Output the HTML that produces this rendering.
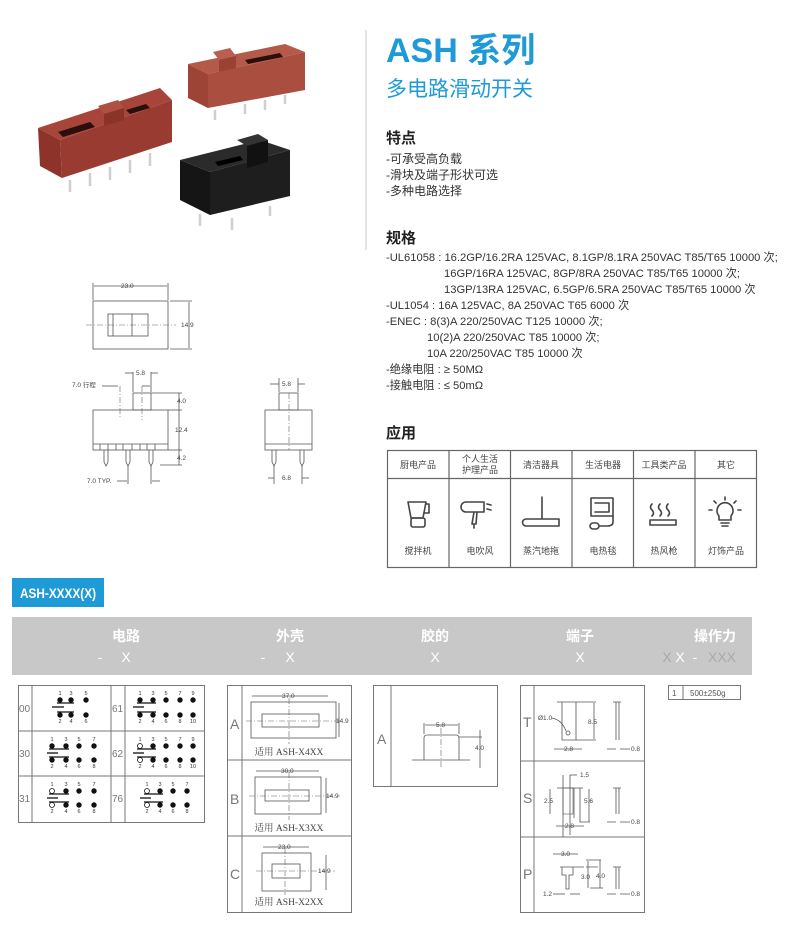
<!DOCTYPE html>
<html><head><meta charset="utf-8"><style>
html,body{margin:0;padding:0;background:#fff;}
svg{display:block;font-family:"Liberation Sans","Noto Sans CJK SC",sans-serif;}
.d{fill:none;stroke:#555;stroke-width:0.8}
.c{fill:none;stroke:#666;stroke-width:0.6;stroke-dasharray:6 2 1 2}
.t{font-size:6.5px;fill:#444}
.g{fill:none;stroke:#777;stroke-width:1}
.ic{fill:none;stroke:#444;stroke-width:1.6;stroke-linecap:round;stroke-linejoin:round}
</style></head><body>
<svg width="790" height="932" viewBox="0 0 790 932" xmlns="http://www.w3.org/2000/svg">
<g>
 <polygon points="38,128 160,88 172,100 60,140" fill="#a8453a"/>
 <polygon points="38,128 60,140 62,178 40,166" fill="#8e3329"/>
 <polygon points="60,140 172,100 172,142 62,178" fill="#9a3b31"/>
 <polygon points="58,132 90,122 95,127 63,137" fill="#2a0f0c"/>
 <polygon points="126,110 146,104 150,108 130,114" fill="#2a0f0c"/>
 <polygon points="98,106 118,100 124,108 104,114" fill="#b04f43"/>
 <polygon points="104,114 124,108 124,120 104,126" fill="#8c3328"/>
 <g stroke="#cfcfcf" stroke-width="2.5"><line x1="70" y1="180" x2="70" y2="192"/><line x1="90" y1="173" x2="90" y2="186"/><line x1="110" y1="167" x2="110" y2="180"/><line x1="130" y1="160" x2="130" y2="173"/><line x1="150" y1="153" x2="150" y2="166"/></g>
 <polygon points="188,64 285,44 305,52 208,74" fill="#b45a49"/>
 <polygon points="188,64 208,74 208,108 188,98" fill="#9e4436"/>
 <polygon points="208,74 305,52 305,90 208,108" fill="#aa4f40"/>
 <polygon points="245,60 280,53 283,57 248,64" fill="#2a0f0c"/>
 <polygon points="213,52 230,48 236,56 219,60" fill="#b86050"/>
 <polygon points="219,60 236,56 236,68 219,72" fill="#9a4234"/>
 <g stroke="#cfcfcf" stroke-width="2.5"><line x1="215" y1="110" x2="215" y2="120"/><line x1="245" y1="104" x2="245" y2="114"/><line x1="265" y1="100" x2="265" y2="110"/><line x1="285" y1="95" x2="285" y2="104"/></g>
 <polygon points="180,160 260,140 290,150 210,172" fill="#2b2b2b"/>
 <polygon points="180,160 210,172 210,215 180,200" fill="#151515"/>
 <polygon points="210,172 290,150 290,196 210,215" fill="#1e1e1e"/>
 <polygon points="237,140 258,134 268,140 247,146" fill="#333"/>
 <polygon points="247,146 268,140 268,162 247,168" fill="#111"/>
 <polygon points="215,162 240,156 243,160 218,166" fill="#000"/>
 <g stroke="#cfcfcf" stroke-width="2.5"><line x1="200" y1="214" x2="200" y2="226"/><line x1="232" y1="218" x2="232" y2="230"/><line x1="270" y1="206" x2="270" y2="216"/></g>
</g>
<line x1="366" y1="30" x2="366" y2="250" stroke="#bbb" stroke-width="0.8"/>
<text x="386" y="62" font-size="34" font-weight="bold" fill="#1e9ad6">ASH 系列</text>
<text x="386" y="96" font-size="21" fill="#1e9ad6">多电路滑动开关</text>
<text x="386" y="143" font-size="15" font-weight="bold" fill="#222">特点</text>
<g font-size="12" fill="#333">
<text x="386" y="163">-可承受高负载</text>
<text x="386" y="179">-滑块及端子形状可选</text>
<text x="386" y="195">-多种电路选择</text>
</g>
<text x="386" y="243" font-size="15" font-weight="bold" fill="#222">规格</text>
<g font-size="11.2" fill="#333">
<text x="386" y="261">-UL61058 : 16.2GP/16.2RA 125VAC, 8.1GP/8.1RA 250VAC T85/T65 10000 次;</text>
<text x="444" y="277">16GP/16RA 125VAC, 8GP/8RA 250VAC T85/T65 10000 次;</text>
<text x="444" y="293">13GP/13RA 125VAC, 6.5GP/6.5RA 250VAC T85/T65 10000 次</text>
<text x="386" y="309">-UL1054 : 16A 125VAC, 8A 250VAC T65 6000 次</text>
<text x="386" y="325">-ENEC : 8(3)A 220/250VAC T125 10000 次;</text>
<text x="427" y="341">10(2)A 220/250VAC T85 10000 次;</text>
<text x="427" y="357">10A 220/250VAC T85 10000 次</text>
<text x="386" y="373">-绝缘电阻 : ≥ 50MΩ</text>
<text x="386" y="389">-接触电阻 : ≤ 50mΩ</text>
</g>
<text x="386" y="438" font-size="15" font-weight="bold" fill="#222">应用</text>
<g stroke="#666" stroke-width="1.2" fill="none">
<rect x="387.5" y="450.5" width="369" height="117"/>
<line x1="387" y1="478.5" x2="757" y2="478.5"/>
<line x1="449" y1="450" x2="449" y2="568"/><line x1="510.5" y1="450" x2="510.5" y2="568"/><line x1="572" y1="450" x2="572" y2="568"/><line x1="633.5" y1="450" x2="633.5" y2="568"/><line x1="695" y1="450" x2="695" y2="568"/>
</g>
<g font-size="9" fill="#444" text-anchor="middle">
<text x="418" y="468">厨电产品</text>
<text x="480" y="462">个人生活</text><text x="480" y="473">护理产品</text>
<text x="541" y="468">清洁器具</text>
<text x="603" y="468">生活电器</text>
<text x="664" y="468">工具类产品</text>
<text x="726" y="468">其它</text>
<text x="418" y="554">搅拌机</text>
<text x="480" y="554">电吹风</text>
<text x="541" y="554">蒸汽地拖</text>
<text x="603" y="554">电热毯</text>
<text x="664" y="554">热风枪</text>
<text x="726" y="554">灯饰产品</text>
</g>
<g class="ic">
<path d="M408,502 h18 l-3,16 h-12 z M426,504 h3 v9 h-4"/><rect x="411" y="518" width="14" height="9" rx="2"/>
<path d="M466,502 h18 v10 h-18 a5,5 0 0 1 0,-10 M474,512 l-2,12 h4 l1,-12 M474,524 v4 M487,504 l4,1 M487,509 l4,1"/>
<path d="M542,497 v22 M526,519 h33 v7 h-33 a3.5,3.5 0 0 1 0,-7"/>
<path d="M591,498 h22 v18 h-22 z M595,503 h14 v9 h-14 M613,516 v6 q0,4 -6,4 h-8"/><rect x="590" y="523" width="9" height="6" rx="3"/>
<path d="M652,504 q-3,3 0,6 q3,3 0,6 M660,504 q-3,3 0,6 q3,3 0,6 M668,504 q-3,3 0,6 q3,3 0,6 M650,520 h26 v5 h-26 z"/>
<path d="M719,520 v-4 a8,8 0 1 1 12,0 v4 z M721,523 h8 M722,526 h6 M725,497 v3 M714,501 l2,2 M736,501 l-2,2 M709,510 h3 M738,510 h3"/>
</g>
<g>
<rect class="d" x="93" y="301" width="75" height="48"/>
<line class="c" x1="86" y1="325" x2="176" y2="325"/>
<rect class="d" x="108" y="314" width="40" height="22"/><line class="d" x1="132" y1="314" x2="132" y2="336"/><line class="d" x1="113" y1="314" x2="113" y2="336"/>
<line class="d" x1="93" y1="283" x2="93" y2="300"/><line class="d" x1="168" y1="283" x2="168" y2="300"/>
<line class="d" x1="94" y1="286" x2="167" y2="286"/><text class="t" x="121" y="288">23.0</text>
<line class="d" x1="170" y1="301" x2="192" y2="301"/><line class="d" x1="170" y1="349" x2="192" y2="349"/>
<line class="d" x1="189" y1="302" x2="189" y2="348"/><text class="t" x="181" y="327">14.9</text>
<rect class="d" x="93" y="410" width="75" height="40"/>
<rect class="d" x="133" y="393" width="18" height="17"/>
<path class="d" d="M93,444 h75 M100,444 v6 M108,444 v6 M116,444 v6 M123,444 v6 M132,444 v6 M140,444 v6 M147,444 v6 M155,444 v6"/>
<g class="d"><path d="M104,450 v12 l2,4 l2,-4 v-12"/><path d="M126,450 v12 l2,4 l2,-4 v-12"/><path d="M149,450 v12 l2,4 l2,-4 v-12"/></g>
<line class="c" x1="120" y1="386" x2="120" y2="418"/><line class="c" x1="142" y1="386" x2="142" y2="420"/>
<line class="d" x1="133" y1="372" x2="133" y2="392"/><line class="d" x1="151" y1="372" x2="151" y2="392"/>
<line class="d" x1="125" y1="373" x2="133" y2="373"/><line class="d" x1="151" y1="373" x2="158" y2="373"/><text class="t" x="136" y="375">5.8</text>
<text class="t" x="72" y="387">7.0 行程</text><line class="d" x1="102" y1="386" x2="118" y2="386"/>
<line class="d" x1="142" y1="386" x2="150" y2="386"/>
<line class="d" x1="151" y1="393" x2="182" y2="393"/><line class="d" x1="168" y1="410" x2="182" y2="410"/><line class="d" x1="168" y1="450" x2="182" y2="450"/><line class="d" x1="160" y1="465" x2="182" y2="465"/>
<line class="d" x1="179" y1="393" x2="179" y2="465"/>
<text class="t" x="177" y="403">4.0</text><text class="t" x="175" y="432">12.4</text><text class="t" x="177" y="460">4.2</text>
<text class="t" x="87" y="483">7.0 TYP.</text><line class="d" x1="117" y1="481" x2="127" y2="481"/><line class="d" x1="128" y1="466" x2="128" y2="484"/><line class="d" x1="151" y1="466" x2="151" y2="484"/><line class="d" x1="152" y1="481" x2="160" y2="481"/>
<rect class="d" x="265" y="410" width="47" height="40"/><rect class="d" x="279" y="393" width="19" height="17"/>
<line class="d" x1="265" y1="444" x2="312" y2="444"/>
<line class="c" x1="289" y1="393" x2="289" y2="450"/>
<g class="d"><path d="M272,450 v12 l2,4 l2,-4 v-12"/><path d="M300,450 v12 l2,4 l2,-4 v-12"/></g>
<line class="d" x1="279" y1="378" x2="279" y2="392"/><line class="d" x1="298" y1="378" x2="298" y2="392"/><line class="d" x1="270" y1="384" x2="279" y2="384"/><line class="d" x1="298" y1="384" x2="305" y2="384"/><text class="t" x="282" y="386">5.8</text>
<line class="d" x1="274" y1="466" x2="274" y2="484"/><line class="d" x1="302" y1="466" x2="302" y2="484"/><line class="d" x1="268" y1="478" x2="274" y2="478"/><line class="d" x1="302" y1="478" x2="309" y2="478"/><text class="t" x="282" y="480">6.8</text>
</g>
<rect x="12" y="578" width="92" height="29" fill="#1e9ad6"/>
<text x="20" y="598" font-size="14" font-weight="bold" fill="#fff" textLength="76" lengthAdjust="spacingAndGlyphs">ASH-XXXX(X)</text>
<rect x="12" y="617" width="740" height="58" fill="#c8c8c8"/>
<g font-size="14" font-weight="bold" fill="#fff" text-anchor="middle">
<text x="126" y="641">电路</text><text x="290" y="641">外壳</text><text x="435" y="641">胶的</text><text x="580" y="641">端子</text><text x="715" y="641">操作力</text>
</g>
<g font-size="14" fill="#fff" text-anchor="middle">
<text x="100" y="662">-</text><text x="126" y="662">X</text><text x="263" y="662">-</text><text x="290" y="662">X</text><text x="435" y="662">X</text><text x="580" y="662">X</text>
<text x="667" y="662" fill="#aaa">X</text><text x="680" y="662">X</text><text x="695" y="662">-</text><text x="722" y="662" fill="#aaa">XXX</text>
</g>
<g class="g">
<rect x="18.5" y="685.5" width="186" height="137"/>
<line x1="18" y1="731" x2="205" y2="731"/><line x1="18" y1="776" x2="205" y2="776"/>
<line x1="32" y1="685" x2="32" y2="822"/><line x1="111" y1="685" x2="111" y2="822"/><line x1="125" y1="685" x2="125" y2="822"/>
</g>
<g font-size="10" fill="#777"><text x="19" y="712">00</text><text x="19" y="757">30</text><text x="19" y="802">31</text><text x="112" y="712">61</text><text x="112" y="757">62</text><text x="112" y="802">76</text></g>
<g fill="#111">
<circle cx="60" cy="700" r="2.7"/><circle cx="71" cy="700" r="2.7"/><circle cx="86" cy="700" r="2.7"/><circle cx="60" cy="715" r="2.7"/><circle cx="71" cy="715" r="2.7"/><circle cx="86" cy="715" r="2.7"/>
<circle cx="52" cy="746" r="2.7"/><circle cx="66" cy="746" r="2.7"/><circle cx="79" cy="746" r="2.7"/><circle cx="94" cy="746" r="2.7"/><circle cx="52" cy="760" r="2.7"/><circle cx="66" cy="760" r="2.7"/><circle cx="79" cy="760" r="2.7"/><circle cx="94" cy="760" r="2.7"/>
<circle cx="66" cy="791" r="2.7"/><circle cx="79" cy="791" r="2.7"/><circle cx="94" cy="791" r="2.7"/><circle cx="66" cy="805" r="2.7"/><circle cx="79" cy="805" r="2.7"/><circle cx="94" cy="805" r="2.7"/>
<circle cx="140" cy="700" r="2.7"/><circle cx="153" cy="700" r="2.7"/><circle cx="166" cy="700" r="2.7"/><circle cx="180" cy="700" r="2.7"/><circle cx="193" cy="700" r="2.7"/><circle cx="140" cy="715" r="2.7"/><circle cx="153" cy="715" r="2.7"/><circle cx="166" cy="715" r="2.7"/><circle cx="180" cy="715" r="2.7"/><circle cx="193" cy="715" r="2.7"/>
<circle cx="153" cy="746" r="2.7"/><circle cx="166" cy="746" r="2.7"/><circle cx="180" cy="746" r="2.7"/><circle cx="193" cy="746" r="2.7"/><circle cx="153" cy="760" r="2.7"/><circle cx="166" cy="760" r="2.7"/><circle cx="180" cy="760" r="2.7"/><circle cx="193" cy="760" r="2.7"/>
<circle cx="160" cy="791" r="2.7"/><circle cx="173" cy="791" r="2.7"/><circle cx="187" cy="791" r="2.7"/><circle cx="160" cy="805" r="2.7"/><circle cx="173" cy="805" r="2.7"/><circle cx="187" cy="805" r="2.7"/>
</g>
<g fill="#fff" stroke="#111" stroke-width="0.8"><circle cx="52" cy="791" r="2.5"/><circle cx="52" cy="805" r="2.5"/><circle cx="140" cy="746" r="2.5"/><circle cx="140" cy="760" r="2.5"/><circle cx="147" cy="791" r="2.5"/><circle cx="147" cy="805" r="2.5"/></g>
<g stroke="#111" stroke-width="1.3">
<line x1="57" y1="703" x2="74" y2="703"/><line x1="57" y1="712" x2="74" y2="712"/><line x1="52" y1="707" x2="64" y2="707"/>
<line x1="49" y1="749" x2="69" y2="749"/><line x1="49" y1="757" x2="69" y2="757"/><line x1="47" y1="753" x2="58" y2="753"/>
<line x1="49" y1="794" x2="69" y2="794"/><line x1="49" y1="802" x2="69" y2="802"/><line x1="47" y1="798" x2="58" y2="798"/>
<line x1="137" y1="703" x2="156" y2="703"/><line x1="137" y1="712" x2="156" y2="712"/><line x1="133" y1="707" x2="144" y2="707"/>
<line x1="137" y1="749" x2="156" y2="749"/><line x1="137" y1="757" x2="156" y2="757"/><line x1="133" y1="753" x2="144" y2="753"/>
<line x1="144" y1="794" x2="163" y2="794"/><line x1="144" y1="802" x2="163" y2="802"/><line x1="140" y1="798" x2="151" y2="798"/>
</g>
<g font-size="5.5" fill="#333" text-anchor="middle">
<text x="60" y="695">1</text><text x="71" y="695">3</text><text x="86" y="695">5</text><text x="60" y="723">2</text><text x="71" y="723">4</text><text x="86" y="723">6</text>
<text x="52" y="741">1</text><text x="66" y="741">3</text><text x="79" y="741">5</text><text x="94" y="741">7</text><text x="52" y="768">2</text><text x="66" y="768">4</text><text x="79" y="768">6</text><text x="94" y="768">8</text>
<text x="52" y="786">1</text><text x="66" y="786">3</text><text x="79" y="786">5</text><text x="94" y="786">7</text><text x="52" y="813">2</text><text x="66" y="813">4</text><text x="79" y="813">6</text><text x="94" y="813">8</text>
<text x="140" y="695">1</text><text x="153" y="695">3</text><text x="166" y="695">5</text><text x="180" y="695">7</text><text x="193" y="695">9</text><text x="140" y="723">2</text><text x="153" y="723">4</text><text x="166" y="723">6</text><text x="180" y="723">8</text><text x="193" y="723">10</text>
<text x="140" y="741">1</text><text x="153" y="741">3</text><text x="166" y="741">5</text><text x="180" y="741">7</text><text x="193" y="741">9</text><text x="140" y="768">2</text><text x="153" y="768">4</text><text x="166" y="768">6</text><text x="180" y="768">8</text><text x="193" y="768">10</text>
<text x="147" y="786">1</text><text x="160" y="786">3</text><text x="173" y="786">5</text><text x="187" y="786">7</text><text x="147" y="813">2</text><text x="160" y="813">4</text><text x="173" y="813">6</text><text x="187" y="813">8</text>
</g>
<g class="g">
<rect x="227.5" y="685.5" width="124" height="227"/>
<line x1="227" y1="760" x2="352" y2="760"/><line x1="227" y1="836" x2="352" y2="836"/><line x1="242" y1="685" x2="242" y2="912"/>
</g>
<g font-size="14" fill="#777"><text x="230" y="729">A</text><text x="230" y="804">B</text><text x="230" y="879">C</text></g>
<g>
<rect class="d" x="251" y="702" width="85" height="36"/><rect class="d" x="262" y="714" width="57" height="13"/>
<line class="c" x1="246" y1="721" x2="340" y2="721"/><line class="c" x1="289" y1="698" x2="289" y2="744"/>
<line class="d" x1="252" y1="696" x2="328" y2="696"/><text class="t" x="282" y="698">37.0</text>
<line class="d" x1="339" y1="703" x2="339" y2="737"/><text class="t" x="336" y="723">14.9</text>
<text x="289" y="755" font-size="9.5" fill="#444" text-anchor="middle" font-family="Liberation Serif,'Noto Serif CJK SC',serif">适用 ASH-X4XX</text>
<rect class="d" x="255" y="777" width="66" height="37"/><rect class="d" x="265" y="790" width="44" height="11"/>
<line class="c" x1="249" y1="796" x2="340" y2="796"/><line class="c" x1="289" y1="772" x2="289" y2="820"/>
<line class="d" x1="256" y1="771" x2="319" y2="771"/><text class="t" x="281" y="773">30.0</text>
<line class="d" x1="326" y1="778" x2="326" y2="813"/><text class="t" x="326" y="798">14.9</text>
<text x="289" y="831" font-size="9.5" fill="#444" text-anchor="middle" font-family="Liberation Serif,'Noto Serif CJK SC',serif">适用 ASH-X3XX</text>
<rect class="d" x="262" y="853" width="49" height="38"/><rect class="d" x="272" y="864" width="28" height="14"/>
<line class="c" x1="256" y1="871" x2="335" y2="871"/><line class="c" x1="285" y1="848" x2="285" y2="895"/>
<line class="d" x1="263" y1="847" x2="309" y2="847"/><text class="t" x="278" y="849">23.0</text>
<line class="d" x1="326" y1="855" x2="326" y2="890"/><text class="t" x="318" y="873">14.9</text>
<text x="289" y="905" font-size="9.5" fill="#444" text-anchor="middle" font-family="Liberation Serif,'Noto Serif CJK SC',serif">适用 ASH-X2XX</text>
</g>
<g class="g"><rect x="373.5" y="685.5" width="124" height="101"/><line x1="391" y1="685" x2="391" y2="787"/></g>
<text x="377" y="744" font-size="14" fill="#777">A</text>
<path class="d" d="M424,760 v-22 q0,-3 3,-3 h29 q3,0 3,3 v22 M412,760 h58 M459,737 h23"/>
<line class="c" x1="441" y1="728" x2="441" y2="768"/>
<line class="d" x1="424" y1="723" x2="424" y2="734"/><line class="d" x1="459" y1="723" x2="459" y2="734"/><line class="d" x1="425" y1="725" x2="458" y2="725"/><text class="t" x="436" y="727">5.8</text>
<line class="d" x1="480" y1="730" x2="480" y2="768"/><text class="t" x="475" y="750">4.0</text>
<g class="g"><rect x="520.5" y="685.5" width="124" height="227"/><line x1="520" y1="761" x2="645" y2="761"/><line x1="520" y1="837" x2="645" y2="837"/><line x1="534" y1="685" x2="534" y2="913"/></g>
<g font-size="14" fill="#777"><text x="523" y="727">T</text><text x="523" y="803">S</text><text x="523" y="879">P</text></g>
<g>
<path class="d" d="M562,702 v38 h14 v-38 M557,702 h26 M576,702 h20 M576,740 h20"/><circle class="d" cx="568" cy="733" r="2"/>
<text class="t" x="538" y="720">Ø1.0</text><path class="d" d="M552,718 q10,2 14,13"/>
<line class="d" x1="594" y1="703" x2="594" y2="739"/><text class="t" x="588" y="724">8.5</text>
<line class="d" x1="554" y1="749" x2="582" y2="749"/><text class="t" x="564" y="751">2.8</text>
<path class="d" d="M616,702 v38 M613,702 h8 M619,702 v38 M607,749 h9 M620,749 h10"/><text class="t" x="631" y="751">0.8</text>
<path class="d" d="M563,775 v62 M570,775 v60 M557,788 h26 M580,788 v34 h10 M574,788 v30"/>
<rect x="563" y="788" width="10" height="26" fill="none" stroke="#555" stroke-width="0.6"/>
<line class="d" x1="570" y1="775" x2="577" y2="775"/><text class="t" x="580" y="777">1.5</text>
<line class="d" x1="550" y1="789" x2="550" y2="814"/><text class="t" x="544" y="803">2.5</text>
<line class="d" x1="589" y1="789" x2="589" y2="822"/><text class="t" x="584" y="803">5.6</text>
<line class="d" x1="556" y1="826" x2="584" y2="826"/><text class="t" x="565" y="828">2.8</text>
<path class="d" d="M616,788 v26 M613,788 h8 M619,788 v26 M607,822 h9 M620,822 h10"/><text class="t" x="631" y="824">0.8</text>
<path class="d" d="M560,867 h24 M562,867 v8 h4 v14 h3 v-14 h4 v-8 M586,860 h15 M586,867 h12 M590,888 h13"/>
<line class="d" x1="553" y1="854" x2="578" y2="854"/><text class="t" x="561" y="856">3.0</text>
<line class="d" x1="588" y1="861" x2="588" y2="888"/><text class="t" x="581" y="879">3.0</text>
<line class="d" x1="600" y1="860" x2="600" y2="888"/><text class="t" x="596" y="878">4.0</text>
<text class="t" x="543" y="896">1.2</text><line class="d" x1="553" y1="894" x2="565" y2="894"/><line class="d" x1="570" y1="894" x2="580" y2="894"/>
<path class="d" d="M616,867 v22 M613,867 h8 M619,867 v22 M607,894 h9 M620,894 h10"/><text class="t" x="631" y="896">0.8</text>
</g>
<g class="g"><rect x="668.5" y="685.5" width="72" height="14"/><line x1="683" y1="685" x2="683" y2="700"/></g>
<text x="672" y="696" font-size="8" fill="#555">1</text><text x="690" y="696" font-size="8" fill="#555">500±250g</text>
</svg>
</body></html>
